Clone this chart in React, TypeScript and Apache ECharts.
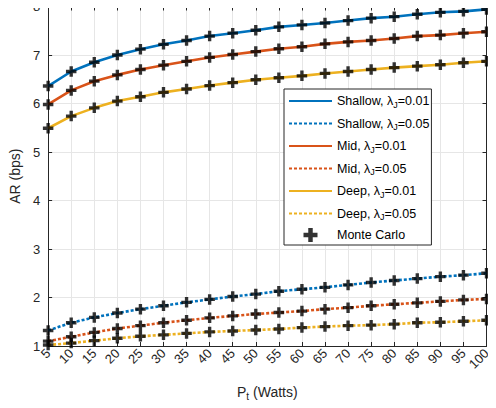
import React, { useEffect, useRef } from "react";
import * as echarts from "echarts";

const pt = [5, 10, 15, 20, 25, 30, 35, 40, 45, 50, 55, 60, 65, 70, 75, 80, 85, 90, 95, 100];

const shallow01 = [6.36, 6.66, 6.85, 7.0, 7.12, 7.22, 7.3, 7.39, 7.45, 7.51, 7.58, 7.62, 7.66, 7.71, 7.76, 7.79, 7.84, 7.88, 7.9, 7.94];
const shallow05 = [1.32, 1.48, 1.59, 1.68, 1.76, 1.83, 1.9, 1.96, 2.02, 2.07, 2.13, 2.17, 2.21, 2.26, 2.31, 2.35, 2.39, 2.43, 2.46, 2.5];
const mid01 = [5.98, 6.27, 6.46, 6.59, 6.7, 6.79, 6.87, 6.95, 7.01, 7.07, 7.13, 7.17, 7.23, 7.27, 7.3, 7.34, 7.39, 7.41, 7.45, 7.48];
const mid05 = [1.1, 1.19, 1.28, 1.36, 1.42, 1.48, 1.53, 1.58, 1.62, 1.66, 1.69, 1.72, 1.76, 1.79, 1.83, 1.86, 1.89, 1.92, 1.95, 1.97];
const deep01 = [5.49, 5.74, 5.91, 6.05, 6.14, 6.23, 6.3, 6.37, 6.43, 6.49, 6.53, 6.57, 6.62, 6.66, 6.7, 6.74, 6.77, 6.8, 6.84, 6.87];
const deep05 = [1.02, 1.06, 1.11, 1.16, 1.2, 1.23, 1.26, 1.29, 1.31, 1.33, 1.35, 1.38, 1.4, 1.42, 1.43, 1.45, 1.48, 1.49, 1.51, 1.53];

const yTicks = [1, 2, 3, 4, 5, 6, 7, 8];

const FONT = "'Liberation Sans', Arial, Helvetica, sans-serif";
const AXIS = "#262626";
const GRID = "#e6e6e6";
const PLUS = "path://M3.4,0H6.6V3.4H10V6.6H6.6V10H3.4V6.6H0V3.4H3.4Z";

const lines = [
  { name: "Shallow, λ_J=0.01", data: shallow01, color: "#0072BD", dotted: false },
  { name: "Shallow, λ_J=0.05", data: shallow05, color: "#0072BD", dotted: true },
  { name: "Mid, λ_J=0.01", data: mid01, color: "#D95319", dotted: false },
  { name: "Mid, λ_J=0.05", data: mid05, color: "#D95319", dotted: true },
  { name: "Deep, λ_J=0.01", data: deep01, color: "#EDB120", dotted: false },
  { name: "Deep, λ_J=0.05", data: deep05, color: "#EDB120", dotted: true },
];

const subRich = {
  t: { fontSize: 12.5, fontFamily: FONT, color: "#000", lineHeight: 14 },
  s: { fontSize: 9, fontFamily: FONT, color: "#000", lineHeight: 14, padding: [7, 0, 0, 0] },
};

const App: React.FC = () => {
  const chartRef = useRef<HTMLDivElement>(null);

  useEffect(() => {
    if (!chartRef.current) return;
    const chart = echarts.init(chartRef.current, undefined, { renderer: "svg" });

    const series: any[] = lines.map((l) => ({
      name: l.name,
      type: "line",
      data: pt.map((x, i) => [x, l.data[i]]),
      showSymbol: false,
      lineStyle: { color: l.color, width: 2.6, type: l.dotted ? [3, 2] : "solid" },
      itemStyle: { color: l.color },
      z: 2,
    }));

    series.push({
      name: "Monte Carlo",
      type: "scatter",
      symbol: PLUS,
      symbolSize: 10.5,
      itemStyle: { color: "#000" },
      data: lines.flatMap((l) => pt.map((x, i) => [x, l.data[i]])),
      z: 5,
    });

    const option = {
      animation: false,
      textStyle: { fontFamily: FONT },
      grid: { left: 35, right: 9.5, top: 4, bottom: 62 },
      legend: {
        orient: "vertical",
        left: 284,
        top: 89,
        padding: [4, 2, 3, 4],
        itemWidth: 43,
        itemHeight: 14,
        itemGap: 6.5,
        itemTextGap: 3,
        backgroundColor: "#fff",
        borderColor: AXIS,
        borderWidth: 1,
        borderRadius: 0,
        data: [
          ...lines.map((l) => ({ name: l.name, itemStyle: { opacity: 0 } })),
          { name: "Monte Carlo", icon: PLUS, itemStyle: { color: "#000" } },
        ],
        formatter: (name: string) => {
          if (name.indexOf("λ_J") < 0) return "{t|" + name + "}";
          const [a, b] = name.split("λ_J");
          return "{t|" + a + "λ}{s|J}{t|" + b + "}";
        },
        textStyle: { rich: subRich },
      },
      xAxis: [
        {
          type: "value",
          min: 5,
          max: 100,
          interval: 5,
          name: "{t|P}{s|t}{t| (Watts)}",
          nameLocation: "middle",
          nameGap: 38,
          nameTextStyle: {
            rich: {
              t: { fontSize: 14, fontFamily: FONT, color: AXIS, lineHeight: 16 },
              s: { fontSize: 10, fontFamily: FONT, color: AXIS, lineHeight: 16, padding: [8, 0, 0, 0] },
            },
          },
          axisLine: { lineStyle: { color: AXIS, width: 1 } },
          axisTick: { inside: true, length: 4, lineStyle: { color: AXIS } },
          axisLabel: { rotate: 45, fontSize: 13, color: AXIS, margin: 5, fontFamily: FONT },
          splitLine: { show: true, lineStyle: { color: GRID, width: 1 } },
        },
        {
          type: "value",
          position: "top",
          min: 5,
          max: 100,
          interval: 5,
          axisLine: { show: true, lineStyle: { color: AXIS, width: 1 } },
          axisTick: { show: true, inside: true, length: 4, lineStyle: { color: AXIS } },
          axisLabel: { show: false },
          splitLine: { show: false },
        },
      ],
      yAxis: [
        {
          type: "value",
          min: yTicks[0],
          max: yTicks[yTicks.length - 1],
          interval: 1,
          name: "AR (bps)",
          nameLocation: "middle",
          nameGap: 24,
          nameTextStyle: { fontSize: 14, color: AXIS, fontFamily: FONT },
          axisLine: { show: true, lineStyle: { color: AXIS, width: 1 } },
          axisTick: { show: true, inside: true, length: 4, lineStyle: { color: AXIS } },
          axisLabel: { fontSize: 13, color: AXIS, margin: 8, fontFamily: FONT },
          splitLine: { show: true, lineStyle: { color: GRID, width: 1 } },
        },
        {
          type: "value",
          position: "right",
          min: yTicks[0],
          max: yTicks[yTicks.length - 1],
          interval: 1,
          axisLine: { show: true, lineStyle: { color: AXIS, width: 1 } },
          axisTick: { show: true, inside: true, length: 4, lineStyle: { color: AXIS } },
          axisLabel: { show: false },
          splitLine: { show: false },
        },
      ],
      series,
    };

    chart.setOption(option);

    return () => {
      chart.dispose();
    };
  }, []);

  return <div ref={chartRef} style={{ width: "496px", height: "408px", margin: "-8px" }} />;
};

export default App;
